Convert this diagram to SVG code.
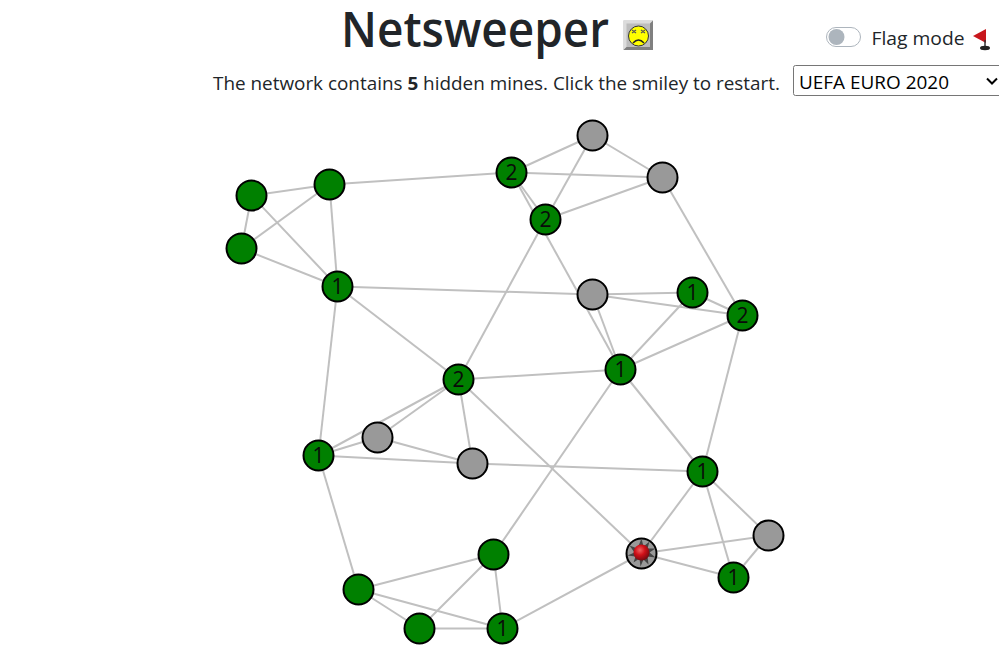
<svg xmlns="http://www.w3.org/2000/svg" width="999" height="646" viewBox="0 0 999 646">
<style>
text{font-family:"Open Sans","Noto Sans","Liberation Sans",sans-serif;fill:#212529}
#connectors line{stroke:#c0c0c0;stroke-width:2}
.nd>circle{stroke:#000;stroke-width:2}
.g>circle{fill:#008000}
.u>circle{fill:#999}
.nd text{font-size:21px;text-anchor:middle;fill:#0a0a0a}
</style>
<defs>
<radialGradient id="mineRed" cx="0.4" cy="0.35" r="0.7"><stop offset="0" stop-color="#f06060"/><stop offset="0.45" stop-color="#d01018"/><stop offset="1" stop-color="#6a0a10"/></radialGradient>
</defs>
<rect width="999" height="646" fill="#fff"/>
<g id="header">
<text x="341" y="47" font-size="48" font-weight="600" textLength="268" lengthAdjust="spacingAndGlyphs">Netsweeper</text>
<g id="smiley">
<rect x="623.500" y="20.500" width="29.500" height="29.500" fill="#bdbdbd"/>
<path d="M623.500 50V20.500H653L650 23.500H626.500V47Z" fill="#dcdcdc"/>
<path d="M653 20.500V50H623.500L626.500 47H650V23.500Z" fill="#808080"/>
<circle cx="638.500" cy="36" r="10" fill="#ffff00" stroke="#333" stroke-width="1"/>
<path d="M632 30l4 3m0-3l-4 3M641 30l4 3m0-3l-4 3" stroke="#555" stroke-width="1.200" fill="none"/>
<path d="M633 43q5.500-6 11 0" stroke="#222" stroke-width="1.500" fill="none"/>
</g>
<g id="toggle">
<rect x="826.500" y="27.500" width="34" height="19" rx="9.500" fill="#fff" stroke="#adb5bd"/>
<circle cx="836.500" cy="37" r="8" fill="#adb5bd"/>
</g>
<text x="871.500" y="45" font-size="19" textLength="93" lengthAdjust="spacingAndGlyphs">Flag mode</text>
<g id="flag">
<path d="M986 29V43L973 36Z" fill="#c8161c"/>
<path d="M985 40V47" stroke="#333" stroke-width="1.500"/>
<ellipse cx="985" cy="48" rx="5" ry="2.200" fill="#222"/>
</g>
<text x="213" y="90" font-size="18.500" textLength="567" lengthAdjust="spacingAndGlyphs">The network contains <tspan font-weight="700">5</tspan> hidden mines. Click the smiley to restart.</text>
<g id="select">
<rect x="793.500" y="65.500" width="210" height="30" rx="2" fill="#fff" stroke="#767676"/>
<text x="799" y="89" font-size="18.500" textLength="150" lengthAdjust="spacingAndGlyphs" style="fill:#000">UEFA EURO 2020</text>
<path d="M987 78.500l5 5 5-5" stroke="#000" stroke-width="2" fill="none"/>
</g>
</g>
<g transform="translate(0.500,0.500)">
<g id="connectors">
<line x1="251" y1="195" x2="329" y2="184"/>
<line x1="251" y1="195" x2="241" y2="248"/>
<line x1="251" y1="195" x2="337" y2="286"/>
<line x1="329" y1="184" x2="241" y2="248"/>
<line x1="329" y1="184" x2="337" y2="286"/>
<line x1="329" y1="184" x2="511" y2="172"/>
<line x1="241" y1="248" x2="337" y2="286"/>
<line x1="337" y1="286" x2="592" y2="294"/>
<line x1="337" y1="286" x2="458" y2="379"/>
<line x1="337" y1="286" x2="318" y2="455"/>
<line x1="511" y1="172" x2="592" y2="135"/>
<line x1="511" y1="172" x2="662" y2="177"/>
<line x1="511" y1="172" x2="545" y2="219"/>
<line x1="511" y1="172" x2="620" y2="369"/>
<line x1="592" y1="135" x2="662" y2="177"/>
<line x1="592" y1="135" x2="545" y2="219"/>
<line x1="662" y1="177" x2="545" y2="219"/>
<line x1="662" y1="177" x2="742" y2="315"/>
<line x1="545" y1="219" x2="458" y2="379"/>
<line x1="592" y1="294" x2="692" y2="292"/>
<line x1="592" y1="294" x2="742" y2="315"/>
<line x1="592" y1="294" x2="620" y2="369"/>
<line x1="692" y1="292" x2="742" y2="315"/>
<line x1="692" y1="292" x2="620" y2="369"/>
<line x1="742" y1="315" x2="620" y2="369"/>
<line x1="742" y1="315" x2="702" y2="471"/>
<line x1="620" y1="369" x2="458" y2="379"/>
<line x1="620" y1="369" x2="702" y2="471"/>
<line x1="620" y1="369" x2="493" y2="554"/>
<line x1="458" y1="379" x2="377" y2="437"/>
<line x1="458" y1="379" x2="318" y2="455"/>
<line x1="458" y1="379" x2="472" y2="463"/>
<line x1="458" y1="379" x2="641" y2="553"/>
<line x1="377" y1="437" x2="318" y2="455"/>
<line x1="377" y1="437" x2="472" y2="463"/>
<line x1="318" y1="455" x2="472" y2="463"/>
<line x1="318" y1="455" x2="358" y2="589"/>
<line x1="472" y1="463" x2="702" y2="471"/>
<line x1="702" y1="471" x2="768" y2="535"/>
<line x1="702" y1="471" x2="641" y2="553"/>
<line x1="702" y1="471" x2="733" y2="577"/>
<line x1="768" y1="535" x2="641" y2="553"/>
<line x1="768" y1="535" x2="733" y2="577"/>
<line x1="641" y1="553" x2="733" y2="577"/>
<line x1="641" y1="553" x2="502" y2="628"/>
<line x1="493" y1="554" x2="358" y2="589"/>
<line x1="493" y1="554" x2="419" y2="628"/>
<line x1="493" y1="554" x2="502" y2="628"/>
<line x1="358" y1="589" x2="419" y2="628"/>
<line x1="358" y1="589" x2="502" y2="628"/>
<line x1="419" y1="628" x2="502" y2="628"/>
</g>
<g id="n1" class="nd g"><circle cx="251" cy="195" r="15"/></g>
<g id="n2" class="nd g"><circle cx="329" cy="184" r="15"/></g>
<g id="n3" class="nd g"><circle cx="241" cy="248" r="15"/></g>
<g id="n4" class="nd g"><circle cx="337" cy="286" r="15"/><text x="337" y="293">1</text></g>
<g id="n5" class="nd g"><circle cx="511" cy="172" r="15"/><text x="511" y="179">2</text></g>
<g id="n6" class="nd u"><circle cx="592" cy="135" r="15"/></g>
<g id="n7" class="nd u"><circle cx="662" cy="177" r="15"/></g>
<g id="n8" class="nd g"><circle cx="545" cy="219" r="15"/><text x="545" y="226">2</text></g>
<g id="n9" class="nd u"><circle cx="592" cy="294" r="15"/></g>
<g id="n10" class="nd g"><circle cx="692" cy="292" r="15"/><text x="692" y="299">1</text></g>
<g id="n11" class="nd g"><circle cx="742" cy="315" r="15"/><text x="742" y="322">2</text></g>
<g id="n12" class="nd g"><circle cx="620" cy="369" r="15"/><text x="620" y="376">1</text></g>
<g id="n13" class="nd g"><circle cx="458" cy="379" r="15"/><text x="458" y="386">2</text></g>
<g id="n14" class="nd u"><circle cx="377" cy="437" r="15"/></g>
<g id="n15" class="nd g"><circle cx="318" cy="455" r="15"/><text x="318" y="462">1</text></g>
<g id="n16" class="nd u"><circle cx="472" cy="463" r="15"/></g>
<g id="n17" class="nd g"><circle cx="702" cy="471" r="15"/><text x="702" y="478">1</text></g>
<g id="n18" class="nd u"><circle cx="768" cy="535" r="15"/></g>
<g id="n19" class="nd u"><circle cx="641" cy="553" r="15"/>
<path d="M641 539l2 8 6-5-2 7 8 0-6 4 6 5-8-1 1 8-5-5-3 7-1-8-6 4 2-6-8-1 7-3-5-7 8 3z" fill="#444" transform="translate(0,-1)"/>
<g fill="none"><ellipse cx="641" cy="552" rx="8" ry="8" fill="url(#mineRed)"/></g>
</g>
<g id="n20" class="nd g"><circle cx="733" cy="577" r="15"/><text x="733" y="584">1</text></g>
<g id="n21" class="nd g"><circle cx="493" cy="554" r="15"/></g>
<g id="n22" class="nd g"><circle cx="358" cy="589" r="15"/></g>
<g id="n23" class="nd g"><circle cx="419" cy="628" r="15"/></g>
<g id="n24" class="nd g"><circle cx="502" cy="628" r="15"/><text x="502" y="635">1</text></g>
</g>
</svg>
